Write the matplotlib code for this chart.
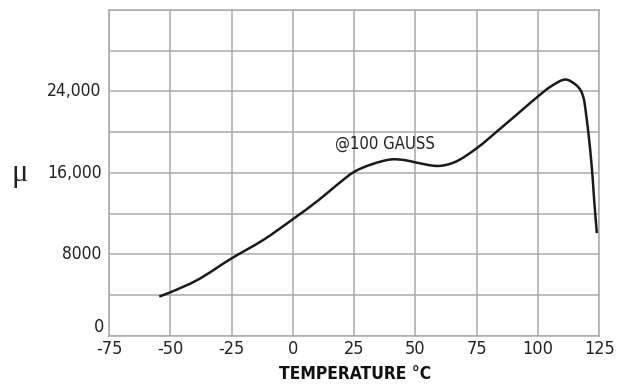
import matplotlib
matplotlib.use("Agg")
import matplotlib.pyplot as plt
import numpy as np
from matplotlib.path import Path
from matplotlib.patches import PathPatch

# values (temperature in C, permeability)
temps = [-54.5, -50, -39, -25, -12, 0, 10.4, 18.3, 25, 31.8, 40.1, 45.7, 50,
         59.2, 66, 75, 84.1, 92.8, 100, 105.3, 111.2, 115.2, 117.3, 118.6,
         119.7, 120.7, 121.5, 122.2, 122.9, 123.5, 124.0]
mu = [3850, 4265, 5470, 7600, 9420, 11450, 13300, 14880, 16100, 16810, 17320,
      17250, 17030, 16680, 17050, 18420, 20240, 22030, 23510, 24500, 25170,
      24700, 24150, 23350, 21600, 19620, 17730, 15820, 13370, 11570, 10080]

x_ticks = [-75, -50, -25, 0, 25, 50, 75, 100, 125]
x_labels = ["-75", "-50", "-25", "0", "25", "50", "75", "100", "125"]
y_grid = [0, 4000, 8000, 12000, 16000, 20000, 24000, 28000, 32000]
y_label_vals = [8000, 16000, 24000]
y_label_txt = ["8000", "16,000", "24,000"]

narrow = dict(family="DejaVu Sans", stretch="condensed")
grid_col = "#aaaaaa"


def smooth_path(xs, ys):
    # centripetal catmull-rom through the points, as bezier segments.
    # work in roughly screen-proportional units so the shape is not skewed
    sx, sy = 491 / 200, 326 / 32000
    p = np.column_stack([np.array(xs) * sx, np.array(ys) * sy])
    p = np.vstack([2 * p[0] - p[1], p, 2 * p[-1] - p[-2]])
    d = np.sqrt(np.linalg.norm(np.diff(p, axis=0), axis=1))
    verts = [p[1]]
    for i in range(1, len(p) - 2):
        p0, p1, p2, p3 = p[i - 1], p[i], p[i + 1], p[i + 2]
        d0, d1, d2 = d[i - 1], d[i], d[i + 1]
        m1 = (p1 - p0) / d0 - (p2 - p0) / (d0 + d1) + (p2 - p1) / d1
        m2 = (p2 - p1) / d1 - (p3 - p1) / (d1 + d2) + (p3 - p2) / d2
        verts += [p1 + m1 * d1 / 3, p2 - m2 * d1 / 3, p2]
    verts = np.array(verts) / [sx, sy]
    codes = [Path.MOVETO] + [Path.CURVE4] * (len(verts) - 1)
    return Path(verts, codes)


fig = plt.figure(figsize=(6.18, 3.85), dpi=100)
ax = fig.add_axes([0.1764, 0.128, 0.7933, 0.846])

ax.add_patch(PathPatch(smooth_path(temps, mu), facecolor="none",
                       edgecolor="#1a1a1a", lw=1.8, capstyle="butt",
                       joinstyle="round"))

ax.set_xlim(-75, 125)
ax.set_ylim(0, 32000)
ax.set_xticks(x_ticks)
ax.set_yticks(y_grid)
ax.set_yticklabels([])
ax.set_xticklabels(x_labels, fontsize=13, color="#222222", **narrow)
ax.tick_params(length=0, pad=3)
ax.grid(True, color=grid_col, lw=1.1)
ax.set_axisbelow(True)
for s in ax.spines.values():
    s.set_color(grid_col)
    s.set_linewidth(1.1)

for v, t in zip(y_label_vals, y_label_txt):
    ax.text(-78, v, t, ha="right", va="center", fontsize=12.5, color="#222222",
            **narrow)
ax.text(-77, 0, "0", ha="right", va="bottom", fontsize=13, color="#222222",
        **narrow)

ax.text(37.4, 18860, "@100 GAUSS", ha="center", va="center", fontsize=12,
        color="#222222", **narrow)

fig.text(0.0315, 0.55, "μ", ha="center", va="center", family="Liberation Serif",
         fontsize=22, color="#222222")
fig.text(0.575, 0.028, "TEMPERATURE °C", ha="center", va="center",
         fontsize=12.5, fontweight="bold", color="#111111", **narrow)

fig.savefig("out.png", dpi=100)
